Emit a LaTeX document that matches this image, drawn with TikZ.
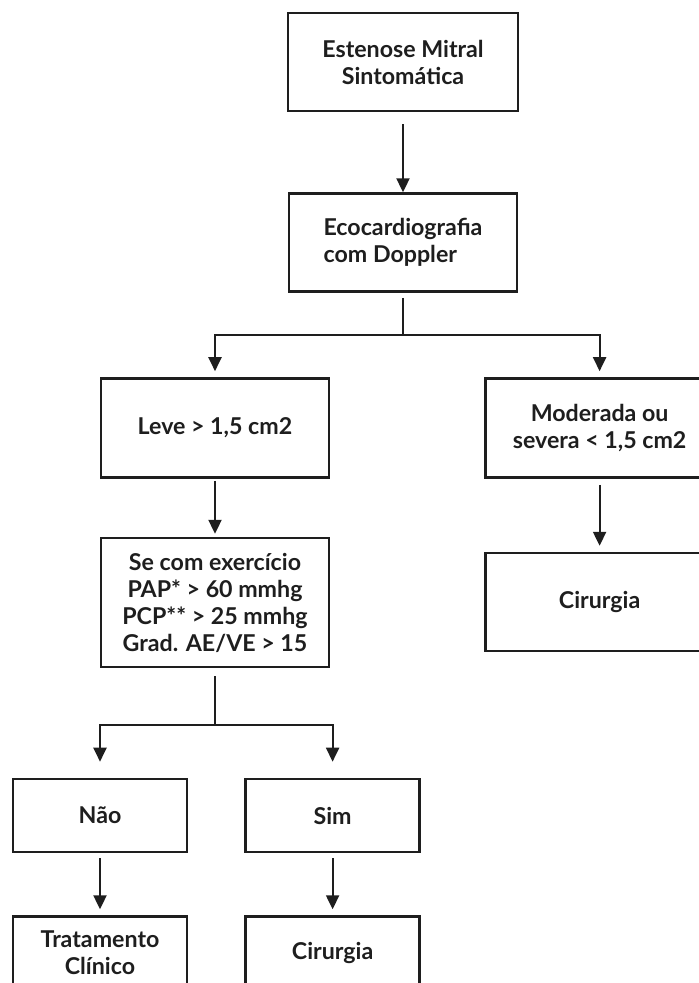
\documentclass[tikz,border=0pt]{standalone}
\usepackage{fontspec}
\setmainfont{Lato}
\usetikzlibrary{positioning, arrows.meta}
\definecolor{inkcolor}{HTML}{1E1E1E}

\begin{document}
\begin{tikzpicture}[x=0.5pt, y=-0.5pt,
    box/.style={rectangle, draw=inkcolor, line width=1.3pt, minimum width=114pt, minimum height=49pt, align=center, font=\bfseries\fontsize{11.6}{13.5}\selectfont, text=inkcolor, inner sep=0pt},
    small/.style={box, minimum width=87pt, minimum height=36.5pt},
    arr/.style={-{Triangle[length=7pt, width=6.5pt]}, line width=1.05pt, draw=inkcolor},
    link/.style={line width=1.05pt, draw=inkcolor},
  ]
    \useasboundingbox (0,0) rectangle (699,983);

    \node[box, minimum width=115pt] (estenose) at (403,62) {Estenose Mitral\\Sintomática};
    \node[box, align=left, below=40pt of estenose] (eco) {Ecocardiografia\\com Doppler};

    \node[box, minimum height=49.5pt] (leve) at (215,428) {Leve > 1,5 cm2};
    \node[box, minimum height=49.5pt, right=77pt of leve] (moderada) {Moderada ou\\severa < 1,5 cm2};
    \node[box, minimum height=64.5pt, below=29pt of leve] (secom) {Se com exercício\\PAP* > 60 mmhg\\PCP** > 25 mmhg\\Grad. AE/VE > 15};
    \node[box, below=36.5pt of moderada] (cirdir) {Cirurgia};

    \node[small] (nao) at (100,815.5) {Não};
    \node[small, right=28pt of nao] (sim) {Sim};
    \node[small, below=31pt of nao] (tratamento) {Tratamento\\Clínico};
    \node[small, below=31pt of sim] (ciresq) {Cirurgia};

    \coordinate[below=21pt of eco] (ramo1);
    \coordinate[below=28.5pt of secom] (ramo2);

    \draw[arr, shorten <=6pt] (estenose) -- (eco);
    \draw[link, shorten <=2.5pt] (eco) -- (ramo1);
    \draw[arr, shorten >=3pt] (ramo1) -| (leve);
    \draw[arr, shorten >=3pt] (ramo1) -| (moderada);
    \draw[arr, shorten <=1pt, shorten >=1.5pt] (leve) -- (secom);
    \draw[arr, shorten <=3pt, shorten >=3pt] (moderada) -- (cirdir);
    \draw[link, shorten <=4pt] (secom) -- (ramo2);
    \draw[arr, shorten >=8pt] (ramo2) -| (nao);
    \draw[arr, shorten >=8pt] (ramo2) -| (sim);
    \draw[arr, shorten <=2.5pt, shorten >=3pt] (nao) -- (tratamento);
    \draw[arr, shorten <=2.5pt, shorten >=3pt] (sim) -- (ciresq);
  \end{tikzpicture}
\end{document}
